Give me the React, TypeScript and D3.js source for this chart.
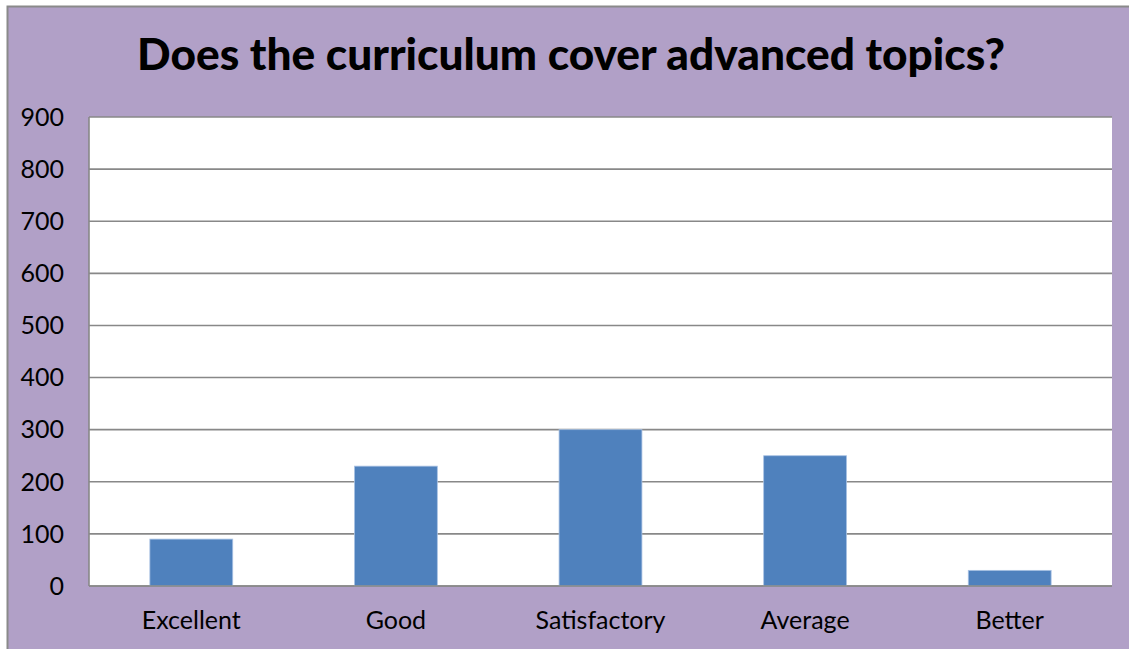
import React, { useEffect, useRef } from 'react';
import * as d3 from 'd3';

const categories = ['Excellent', 'Good', 'Satisfactory', 'Average', 'Better'];
const values = [90, 230, 300, 250, 30];
const yTicks = [0, 100, 200, 300, 400, 500, 600, 700, 800, 900];
const title = 'Does the curriculum cover advanced topics?';

const W = 1129;
const H = 649;
const plot = { left: 89, right: 1112, top: 117, bottom: 586 };

const App: React.FC = () => {
    const svgRef = useRef<SVGSVGElement>(null);

    useEffect(() => {
        if (!svgRef.current) return;
        const svg = d3.select(svgRef.current);
        svg.selectAll('*').remove();

        // chart background + frame
        svg.append('rect')
            .attr('x', 7.5).attr('y', 6.5)
            .attr('width', W + 10).attr('height', H + 10)
            .attr('fill', '#B1A0C7')
            .attr('stroke', '#8a8a8a')
            .attr('stroke-width', 2);

        svg.append('text')
            .attr('x', 571)
            .attr('y', 70)
            .attr('text-anchor', 'middle')
            .attr('font-family', 'Lato, sans-serif')
            .attr('font-weight', 900)
            .attr('font-size', 43)
            .attr('textLength', 868)
            .attr('lengthAdjust', 'spacingAndGlyphs')
            .attr('fill', '#000')
            .text(title);

        const x = d3.scaleBand()
            .domain(categories)
            .range([plot.left, plot.right])
            .paddingInner(0.595)
            .paddingOuter(0.2975);

        const y = d3.scaleLinear()
            .domain([0, 900])
            .range([plot.bottom, plot.top]);

        svg.append('rect')
            .attr('x', plot.left).attr('y', plot.top)
            .attr('width', plot.right - plot.left)
            .attr('height', plot.bottom - plot.top)
            .attr('fill', '#fff');

        // gridlines
        svg.append('g')
            .selectAll('line')
            .data(yTicks)
            .join('line')
            .attr('x1', plot.left).attr('x2', plot.right)
            .attr('y1', d => y(d)).attr('y2', d => y(d))
            .attr('stroke', '#888')
            .attr('stroke-width', 1.6);

        // left axis line
        svg.append('line')
            .attr('x1', plot.left).attr('x2', plot.left)
            .attr('y1', plot.top).attr('y2', plot.bottom)
            .attr('stroke', '#888')
            .attr('stroke-width', 1.6);

        // bars
        svg.append('g')
            .selectAll('rect')
            .data(values)
            .join('rect')
            .attr('x', (_, i) => x(categories[i]) as number)
            .attr('y', d => y(d))
            .attr('width', x.bandwidth())
            .attr('height', d => plot.bottom - y(d))
            .attr('fill', '#4F81BD')
            .attr('stroke', '#a9c2e4')
            .attr('stroke-width', 0.8);

        // bottom axis line over bars
        svg.append('line')
            .attr('x1', plot.left).attr('x2', plot.right)
            .attr('y1', plot.bottom).attr('y2', plot.bottom)
            .attr('stroke', '#888')
            .attr('stroke-width', 1.6);

        // y tick labels
        svg.append('g')
            .selectAll('text')
            .data(yTicks)
            .join('text')
            .attr('x', 64)
            .attr('y', d => y(d))
            .attr('dy', '0.35em')
            .attr('text-anchor', 'end')
            .attr('font-family', 'Lato, sans-serif')
            .attr('font-size', 25)
            .attr('fill', '#000')
            .text(d => d);

        // x labels
        svg.append('g')
            .selectAll('text')
            .data(categories)
            .join('text')
            .attr('x', d => (x(d) as number) + x.bandwidth() / 2)
            .attr('y', 629)
            .attr('text-anchor', 'middle')
            .attr('font-family', 'Lato, sans-serif')
            .attr('font-size', 25)
            .attr('fill', '#000')
            .text(d => d);
    }, []);

    return (
        <div style={{ position: 'fixed', left: 0, top: 0, width: W, height: H, overflow: 'hidden' }}>
            <svg ref={svgRef} width={W} height={H} style={{ display: 'block' }} />
        </div>
    );
};

export default App;
